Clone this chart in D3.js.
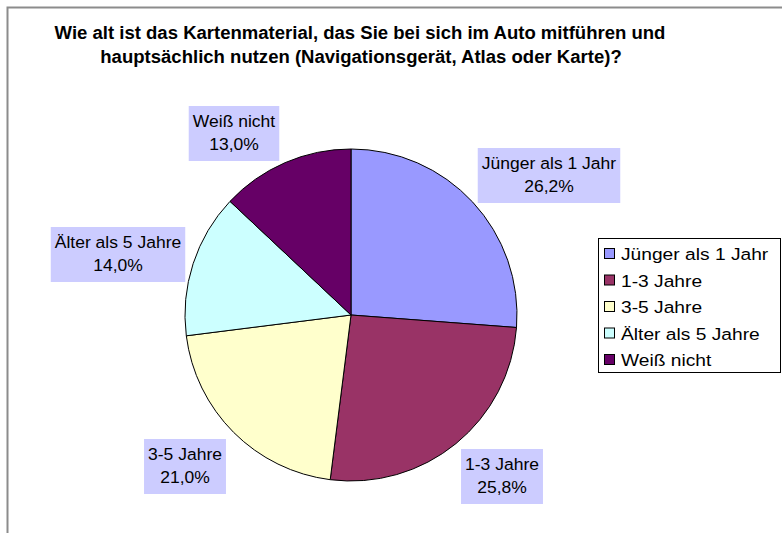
<!DOCTYPE html>
<html>
<head>
<meta charset="utf-8">
<script src="https://cdn.jsdelivr.net/npm/d3@7"></script>
<style>
  body { margin: 0; background: #fff; }
  svg text { font-family: "Liberation Sans", Arial, sans-serif; }
</style>
</head>
<body>
<div id="chart"></div>
<script>
const categories = ["Jünger als 1 Jahr", "1-3 Jahre", "3-5 Jahre", "Älter als 5 Jahre", "Weiß nicht"];
const values = [26.2, 25.8, 21.0, 14.0, 13.0];
const colors = ["#9999ff", "#993366", "#ffffcc", "#ccffff", "#660066"];
// label box: top centre
const labelPos = [[549, 148], [502, 449], [185, 439], [118, 227], [234, 106]];
const titleLines = ["Wie alt ist das Kartenmaterial, das Sie bei sich im Auto mitführen und",
                    "hauptsächlich nutzen (Navigationsgerät, Atlas oder Karte)?"];

const width = 782, height = 533;
const cx = 351, cy = 315, r = 166;

const svg = d3.select("#chart").append("svg")
  .attr("width", width).attr("height", height);

// text drawn with a horizontal stretch, like the original
function stretched(parent, x, y, str, size, sx, anchor, weight) {
  return parent.append("text")
    .attr("transform", `translate(${x},${y}) scale(${sx},1)`)
    .attr("text-anchor", anchor)
    .attr("font-size", size)
    .attr("font-weight", weight || "normal")
    .text(str);
}

// frame
svg.append("path")
  .attr("d", `M7.5,533 V7.5 H782`)
  .attr("fill", "none").attr("stroke", "#8c8c8c").attr("stroke-width", 2);

// title
stretched(svg, 360, 39, titleLines[0], 18, 1.03, "middle", "bold");
stretched(svg, 361, 63, titleLines[1], 18, 1.03, "middle", "bold");

const pie = d3.pie().sort(null).value(d => d);
const arcs = pie(values);
const arc = d3.arc().innerRadius(0).outerRadius(r);

const g = svg.append("g").attr("transform", `translate(${cx},${cy})`);
g.selectAll("path").data(arcs).join("path")
  .attr("d", arc)
  .attr("fill", (d, i) => colors[i])
  .attr("stroke", "#000").attr("stroke-width", 1);

// labels
const fmt = v => d3.format(".1f")(v).replace(".", ",") + "%";
const lsx = 1.03;
arcs.forEach((d, i) => {
  const [lx, top] = labelPos[i];
  const lg = svg.append("g");
  const rect = lg.append("rect").attr("fill", "#ccccff");
  const t1 = stretched(lg, lx, top + 21, categories[i], 17, lsx, "middle");
  const t2 = stretched(lg, lx, top + 44, fmt(values[i]), 17, lsx, "middle");
  const w = Math.max(t1.node().getBBox().width, t2.node().getBBox().width) * lsx;
  rect.attr("x", lx - w / 2 - 4).attr("y", top)
    .attr("width", w + 8).attr("height", 55);
});

// legend
const lgX = 598, lgY = 238;
svg.append("rect")
  .attr("x", lgX + 0.5).attr("y", lgY + 0.5)
  .attr("width", 182).attr("height", 134)
  .attr("fill", "#fff").attr("stroke", "#000").attr("stroke-width", 1);
categories.forEach((c, i) => {
  const y = lgY + 16 + i * 26.5;
  svg.append("rect")
    .attr("x", lgX + 6.5).attr("y", y - 5.5)
    .attr("width", 10).attr("height", 10)
    .attr("fill", colors[i]).attr("stroke", "#000").attr("stroke-width", 1);
  stretched(svg, lgX + 23, y + 6, c, 17, 1.13, "start");
});
</script>
</body>
</html>
